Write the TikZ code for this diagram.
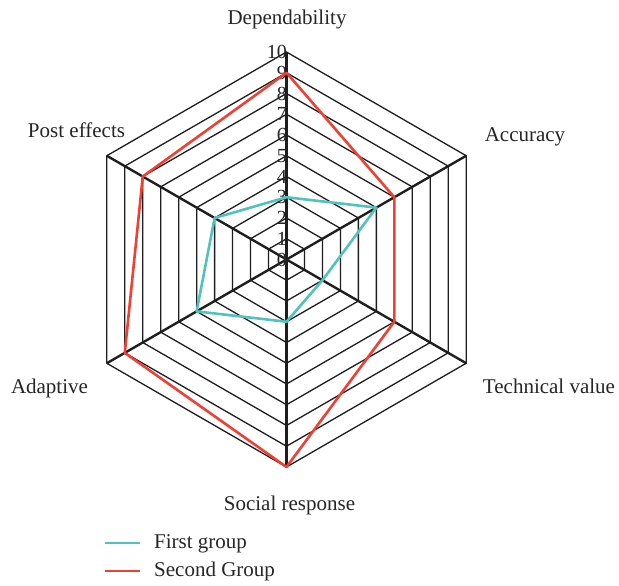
\documentclass[tikz,border=0pt]{standalone}
\usepackage{fontspec}
\setmainfont{Liberation Serif}
\definecolor{tealc}{RGB}{82,194,189}
\definecolor{redc}{RGB}{238,64,52}
\definecolor{gridc}{RGB}{30,30,30}
\tikzset{
  ringline/.style={draw=gridc, line width=1.3pt},
  axisline/.style={draw=gridc, line width=2.4pt},
  firstline/.style={draw=tealc, line width=2.6pt, line join=round},
  secondline/.style={draw=redc, line width=2.6pt, line join=round},
  lbl/.style={font=\fontsize{21}{24}\selectfont, inner sep=0pt, text=black!85},
  numlbl/.style={font=\fontsize{20}{22}\selectfont, inner sep=0pt, anchor=east, text=black!85},
}
\begin{document}
\begin{tikzpicture}[x=1pt,y=1pt]
\useasboundingbox (0,-586) rectangle (619,0);
\fill[white] (0,-586) rectangle (619,0);
\begin{scope}[shift={(286.5,-259.5)}]
  \def\R{20.75}
  % rings
  \foreach \k in {1,...,10}{
    \draw[ringline] (90:\k*\R) -- (30:\k*\R) -- (-30:\k*\R) -- (-90:\k*\R) -- (-150:\k*\R) -- (150:\k*\R) -- cycle;
  }
  % axes
  \coordinate (c) at (0,0);
  \foreach \a/\n in {90/aD,30/aA,-30/aT,-90/aS,-150/aP,150/aE}{
    \coordinate (\n) at (\a:10*\R);
    \draw[axisline] (c) -- (\n);
  }
  % numbers
  \foreach \k in {0,...,10}{
    \node[numlbl] (n\k) at (0.5,\k*\R) {\k};
  }
  % data
  \draw[firstline] (90:3*\R) -- (30:5*\R) -- (-30:2*\R) -- (-90:3*\R) -- (-150:5*\R) -- (150:4*\R) -- cycle;
  \draw[secondline] (90:9*\R) -- (30:6*\R) -- (-30:6*\R) -- (-90:10*\R) -- (-150:9*\R) -- (150:8*\R) -- cycle;
\end{scope}
% labels
\node[lbl, anchor=base] (lD) at (287,-25) {Dependability};
\node[lbl, anchor=base] (lA) at (525,-141) {Accuracy};
\node[lbl, anchor=base] (lT) at (549,-393) {Technical value};
\node[lbl, anchor=base] (lS) at (289.5,-510) {Social response};
\node[lbl, anchor=base] (lP) at (49.5,-393) {Adaptive};
\node[lbl, anchor=base] (lE) at (76.5,-138) {Post effects};
% legend
\coordinate (g1a) at (105,-543);
\coordinate (g1b) at (140,-543);
\coordinate (g2a) at (105,-571);
\coordinate (g2b) at (140,-571);
\draw[firstline] (g1a) -- (g1b);
\draw[secondline] (g2a) -- (g2b);
\node[lbl, anchor=base west] (t1) at (154,-548) {First group};
\node[lbl, anchor=base west] (t2) at (154,-576) {Second Group};
\end{tikzpicture}
\end{document}
